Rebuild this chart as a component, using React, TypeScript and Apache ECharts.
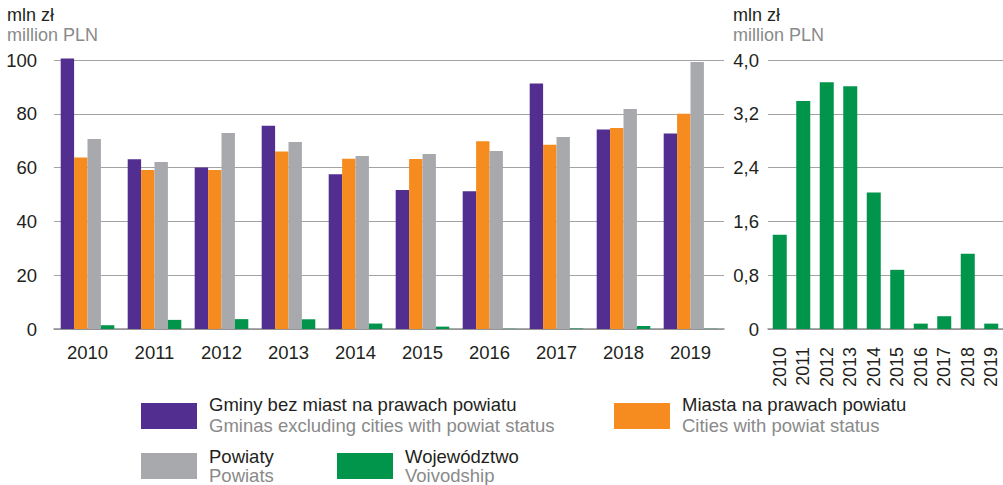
import React, { useEffect, useRef } from "react";
import * as echarts from "echarts";

const years = ["2010", "2011", "2012", "2013", "2014", "2015", "2016", "2017", "2018", "2019"];
const gminy = [100.6, 63.1, 60.0, 75.6, 57.5, 51.7, 51.2, 91.3, 74.2, 72.7];
const miasta = [63.8, 59.1, 59.1, 66.0, 63.3, 63.2, 69.8, 68.5, 74.7, 80.0];
const powiaty = [70.6, 62.1, 72.9, 69.5, 64.3, 65.1, 66.2, 71.4, 81.8, 99.3];
const wojewodztwo = [1.4, 3.39, 3.67, 3.61, 2.03, 0.88, 0.08, 0.19, 1.12, 0.08];

const leftTicks = { min: 0, max: 100, interval: 20 };
const rightTicks = { min: 0, max: 4, interval: 0.8 };

const PURPLE = "#522e91";
const ORANGE = "#f68b1f";
const GRAY = "#a7a9ac";
const GREEN = "#00954a";
const DARK = "#231f20";
const LIGHT = "#8a8a8a";
const FONT = "'Liberation Sans', Arial, sans-serif";

export default function App() {
  const ref = useRef<HTMLDivElement>(null);
  useEffect(() => {
    if (!ref.current) return;
    const chart = echarts.init(ref.current, undefined, { renderer: "svg" });
    const txt = (x: number, y: number, text: string, color: string, size = 18.5) => ({
      type: "text",
      x,
      y,
      style: { text, fill: color, fontSize: size, fontFamily: FONT, verticalAlign: "middle", align: "left" },
    });
    const swatch = (x: number, y: number, color: string) => ({
      type: "rect",
      shape: { x, y, width: 56, height: 26 },
      style: { fill: color },
    });
    const splitLine = { show: true, lineStyle: { color: "#a3a3a3", width: 1.2 } };
    const option: any = {
      animation: false,
      textStyle: { fontFamily: FONT },
      grid: [
        { left: 54, top: 60, width: 670, height: 269 },
        { left: 768, top: 60, width: 236, height: 269 },
      ],
      xAxis: [
        {
          type: "category",
          gridIndex: 0,
          data: years,
          axisTick: { show: false },
          axisLine: { lineStyle: { color: "#8f8f8f", width: 1.5 } },
          axisLabel: { color: DARK, fontSize: 18.5, margin: 14, fontFamily: FONT },
        },
        {
          type: "category",
          gridIndex: 1,
          data: years,
          axisTick: { show: false },
          axisLine: { lineStyle: { color: "#8f8f8f", width: 1.5 } },
          axisLabel: { color: DARK, fontSize: 18, margin: 18, rotate: 90, fontFamily: FONT },
        },
      ],
      yAxis: [
        {
          type: "value",
          gridIndex: 0,
          ...leftTicks,
          axisLine: { show: false },
          axisTick: { show: false },
          splitLine,
          axisLabel: { color: DARK, fontSize: 18.5, margin: 17, fontFamily: FONT },
        },
        {
          type: "value",
          gridIndex: 1,
          ...rightTicks,
          axisLine: { show: false },
          axisTick: { show: false },
          splitLine,
          axisLabel: {
            color: DARK,
            fontSize: 18.5,
            margin: 9,
            fontFamily: FONT,
            formatter: (v: number) => (v === 0 ? "0" : v.toFixed(1).replace(".", ",")),
          },
        },
      ],
      series: [
        { name: "Gminy", type: "bar", xAxisIndex: 0, yAxisIndex: 0, data: gminy, barWidth: 13.4, barGap: "0%", clip: false, itemStyle: { color: PURPLE } },
        { name: "Miasta", type: "bar", xAxisIndex: 0, yAxisIndex: 0, data: miasta, barWidth: 13.4, barGap: "0%", itemStyle: { color: ORANGE } },
        { name: "Powiaty", type: "bar", xAxisIndex: 0, yAxisIndex: 0, data: powiaty, barWidth: 13.4, barGap: "0%", itemStyle: { color: GRAY } },
        { name: "Województwo", type: "bar", xAxisIndex: 0, yAxisIndex: 0, data: wojewodztwo, barWidth: 13.4, barGap: "0%", itemStyle: { color: GREEN } },
        { name: "Województwo2", type: "bar", xAxisIndex: 1, yAxisIndex: 1, data: wojewodztwo, barWidth: 14, itemStyle: { color: GREEN } },
      ],
      graphic: [
        txt(7, 15, "mln zł", DARK, 18),
        txt(7, 35, "million PLN", LIGHT, 18),
        txt(733, 15, "mln zł", DARK, 18),
        txt(733, 35, "million PLN", LIGHT, 18),
        swatch(141, 403, PURPLE),
        txt(209, 404, "Gminy bez miast na prawach powiatu", DARK),
        txt(209, 425, "Gminas excluding cities with powiat status", LIGHT),
        swatch(614, 403, ORANGE),
        txt(682, 404, "Miasta na prawach powiatu", DARK),
        txt(682, 425, "Cities with powiat status", LIGHT),
        swatch(141, 453, GRAY),
        txt(209, 456, "Powiaty", DARK),
        txt(209, 475, "Powiats", LIGHT),
        swatch(337, 453, GREEN),
        txt(405, 456, "Województwo", DARK),
        txt(405, 475, "Voivodship", LIGHT),
      ],
    };
    chart.setOption(option);
    return () => chart.dispose();
  }, []);
  return (
    <div
      ref={ref}
      style={{ position: "absolute", left: 0, top: 0, width: 1003, height: 485 }}
    />
  );
}
